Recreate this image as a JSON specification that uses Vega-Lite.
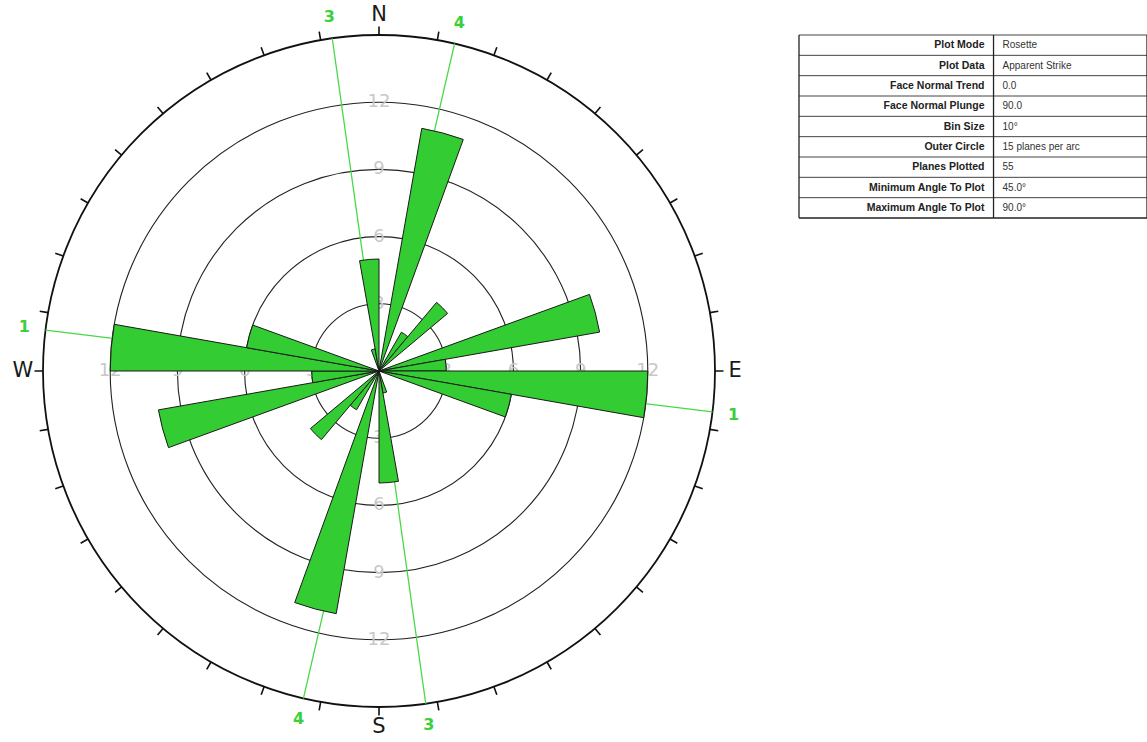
{
  "$schema": "https://vega.github.io/schema/vega-lite/v6.json",
  "padding": 0,
  "background": "white",
  "spacing": 40,
  "config": {"view": {"stroke": null}, "axis": {"disable": true}},
  "datasets": {
    "petals": [
      {"start": 10, "end": 20, "count": 11}, {"start": 190, "end": 200, "count": 11},
      {"start": 30, "end": 40, "count": 2}, {"start": 210, "end": 220, "count": 2},
      {"start": 40, "end": 50, "count": 4}, {"start": 220, "end": 230, "count": 4},
      {"start": 70, "end": 80, "count": 10}, {"start": 250, "end": 260, "count": 10},
      {"start": 80, "end": 90, "count": 3}, {"start": 260, "end": 270, "count": 3},
      {"start": 90, "end": 100, "count": 12}, {"start": 270, "end": 280, "count": 12},
      {"start": 100, "end": 110, "count": 6}, {"start": 280, "end": 290, "count": 6},
      {"start": 160, "end": 170, "count": 1}, {"start": 340, "end": 350, "count": 1},
      {"start": 170, "end": 180, "count": 5}, {"start": 350, "end": 360, "count": 5}
    ],
    "rings": [{"ring": 3}, {"ring": 6}, {"ring": 9}, {"ring": 12}],
    "outer": [{"ring": 15}],
    "ticks": [
      {"az": 0}, {"az": 10}, {"az": 20}, {"az": 30}, {"az": 40}, {"az": 50}, {"az": 60}, {"az": 70}, {"az": 80},
      {"az": 90}, {"az": 100}, {"az": 110}, {"az": 120}, {"az": 130}, {"az": 140}, {"az": 150}, {"az": 160}, {"az": 170},
      {"az": 180}, {"az": 190}, {"az": 200}, {"az": 210}, {"az": 220}, {"az": 230}, {"az": 240}, {"az": 250}, {"az": 260},
      {"az": 270}, {"az": 280}, {"az": 290}, {"az": 300}, {"az": 310}, {"az": 320}, {"az": 330}, {"az": 340}, {"az": 350}
    ],
    "ringLabels": [
      {"v": 3, "az": 0}, {"v": 6, "az": 0}, {"v": 9, "az": 0}, {"v": 12, "az": 0},
      {"v": 3, "az": 90}, {"v": 6, "az": 90}, {"v": 9, "az": 90}, {"v": 12, "az": 90},
      {"v": 3, "az": 180}, {"v": 6, "az": 180}, {"v": 9, "az": 180}, {"v": 12, "az": 180},
      {"v": 3, "az": 270}, {"v": 6, "az": 270}, {"v": 9, "az": 270}, {"v": 12, "az": 270}
    ],
    "lines": [
      {"set": "1", "az": 97}, {"set": "1", "az": 277},
      {"set": "3", "az": 352}, {"set": "3", "az": 172},
      {"set": "4", "az": 13}, {"set": "4", "az": 193}
    ],
    "cardinals": [
      {"label": "N", "az": 0}, {"label": "E", "az": 90}, {"label": "S", "az": 180}, {"label": "W", "az": 270}
    ],
    "table": [
      {"i": 0, "label": "Plot Mode", "value": "Rosette"},
      {"i": 1, "label": "Plot Data", "value": "Apparent Strike"},
      {"i": 2, "label": "Face Normal Trend", "value": "0.0"},
      {"i": 3, "label": "Face Normal Plunge", "value": "90.0"},
      {"i": 4, "label": "Bin Size", "value": "10°"},
      {"i": 5, "label": "Outer Circle", "value": "15 planes per arc"},
      {"i": 6, "label": "Planes Plotted", "value": "55"},
      {"i": 7, "label": "Minimum Angle To Plot", "value": "45.0°"},
      {"i": 8, "label": "Maximum Angle To Plot", "value": "90.0°"}
    ],
    "vlines": [{"xpos": 0}, {"xpos": 0.559}, {"xpos": 1}]
  },
  "hconcat": [
    {
      "width": 758,
      "height": 742,
      "layer": [
        {
          "data": {"name": "rings"},
          "mark": {"type": "arc", "fillOpacity": 0, "stroke": "#222222", "strokeWidth": 1.1},
          "encoding": {
            "theta": {"datum": 0, "type": "quantitative", "scale": {"type": "linear", "domain": [0, 360], "range": [0, 6.283185307179586]}},
            "theta2": {"datum": 360},
            "radius": {"field": "ring", "type": "quantitative", "stack": null, "scale": {"type": "linear", "domain": [0, 15], "range": [0, 336]}}
          }
        },
        {
          "data": {"name": "outer"},
          "mark": {"type": "arc", "fillOpacity": 0, "stroke": "#111111", "strokeWidth": 1.8},
          "encoding": {
            "theta": {"datum": 0, "type": "quantitative"},
            "theta2": {"datum": 360},
            "radius": {"field": "ring", "type": "quantitative", "stack": null}
          }
        },
        {
          "data": {"name": "ticks"},
          "mark": {"type": "arc", "fillOpacity": 0, "stroke": "#111111", "strokeWidth": 1.6},
          "encoding": {
            "theta": {"field": "az", "type": "quantitative", "stack": null},
            "theta2": {"field": "az"},
            "radius": {"datum": 15.38, "type": "quantitative"},
            "radius2": {"datum": 15}
          }
        },
        {
          "data": {"name": "ringLabels"},
          "mark": {"type": "text", "font": "DejaVu Sans", "fontSize": 18, "color": "#c8c8c8", "align": "center", "baseline": "middle"},
          "encoding": {
            "theta": {"field": "az", "type": "quantitative", "stack": null},
            "radius": {"field": "v", "type": "quantitative", "stack": null},
            "text": {"field": "v", "type": "quantitative"}
          }
        },
        {
          "data": {"name": "lines"},
          "mark": {"type": "arc", "fillOpacity": 0, "stroke": "#48d848", "strokeWidth": 1.3},
          "encoding": {
            "theta": {"field": "az", "type": "quantitative", "stack": null},
            "theta2": {"field": "az"},
            "radius": {"datum": 15, "type": "quantitative"},
            "radius2": {"datum": 0}
          }
        },
        {
          "data": {"name": "petals"},
          "mark": {"type": "arc", "fill": "#33cc33", "stroke": "#1a1a1a", "strokeWidth": 1, "strokeJoin": "miter"},
          "encoding": {
            "theta": {"field": "start", "type": "quantitative", "stack": null},
            "theta2": {"field": "end"},
            "radius": {"field": "count", "type": "quantitative", "stack": null}
          }
        },
        {
          "data": {"name": "cardinals"},
          "mark": {"type": "text", "font": "DejaVu Sans", "fontSize": 21, "color": "#1a1a1a", "align": "center", "baseline": "middle"},
          "encoding": {
            "theta": {"field": "az", "type": "quantitative", "stack": null},
            "radius": {"datum": 15.9, "type": "quantitative"},
            "text": {"field": "label", "type": "nominal"}
          }
        },
        {
          "data": {"name": "lines"},
          "mark": {"type": "text", "font": "DejaVu Sans", "fontSize": 16, "fontWeight": "bold", "color": "#3ccf3c", "align": "center", "baseline": "middle"},
          "encoding": {
            "theta": {"field": "az", "type": "quantitative", "stack": null},
            "radius": {"datum": 15.95, "type": "quantitative"},
            "text": {"field": "set", "type": "nominal"}
          }
        }
      ]
    },
    {
      "width": 348,
      "height": 742,
      "layer": [
        {
          "data": {"name": "table"},
          "mark": {"type": "rule", "color": "#444444", "strokeWidth": 1},
          "encoding": {
            "x": {"datum": 0, "type": "quantitative", "axis": null, "scale": {"domain": [0, 1], "range": [0, 348]}},
            "x2": {"datum": 1},
            "y": {"field": "i", "type": "quantitative", "axis": null, "scale": {"domain": [0, 9], "range": [35, 218]}}
          }
        },
        {
          "data": {"values": [{"edge": 9}]},
          "mark": {"type": "rule", "color": "#222222", "strokeWidth": 1.5},
          "encoding": {
            "x": {"datum": 0, "type": "quantitative", "axis": null},
            "x2": {"datum": 1},
            "y": {"field": "edge", "type": "quantitative", "axis": null}
          }
        },
        {
          "data": {"name": "vlines"},
          "mark": {"type": "rule", "color": "#222222", "strokeWidth": 1.3},
          "encoding": {
            "x": {"field": "xpos", "type": "quantitative", "axis": null},
            "y": {"datum": 0, "type": "quantitative", "axis": null},
            "y2": {"datum": 9}
          }
        },
        {
          "data": {"name": "table"},
          "mark": {"type": "text", "font": "Liberation Sans", "fontSize": 10.5, "fontWeight": "bold", "color": "#222222", "align": "right", "baseline": "middle", "dx": -9, "dy": 10.2},
          "encoding": {
            "x": {"datum": 0.559, "type": "quantitative", "axis": null},
            "y": {"field": "i", "type": "quantitative", "axis": null},
            "text": {"field": "label", "type": "nominal"}
          }
        },
        {
          "data": {"name": "table"},
          "mark": {"type": "text", "font": "Liberation Sans", "fontSize": 10, "color": "#333333", "align": "left", "baseline": "middle", "dx": 9, "dy": 10.2},
          "encoding": {
            "x": {"datum": 0.559, "type": "quantitative", "axis": null},
            "y": {"field": "i", "type": "quantitative", "axis": null},
            "text": {"field": "value", "type": "nominal"}
          }
        }
      ]
    }
  ]
}
